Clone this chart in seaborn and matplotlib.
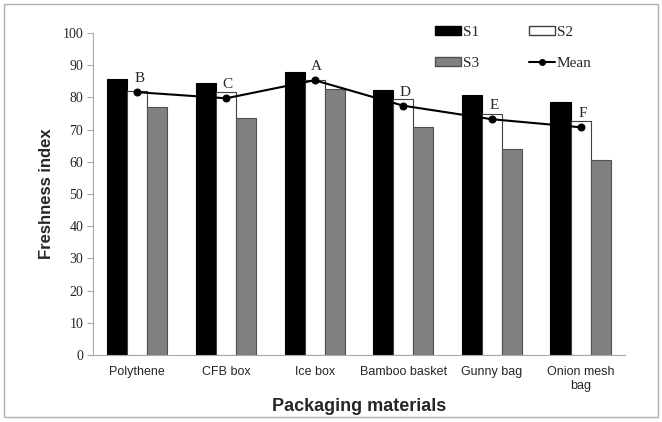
import numpy as np
import pandas as pd
import seaborn as sns
import matplotlib.pyplot as plt
from matplotlib.patches import Patch, Rectangle
from matplotlib.lines import Line2D

# Data
materials = ["Polythene", "CFB box", "Ice box", "Bamboo basket", "Gunny bag", "Onion mesh\nbag"]
s1 = [85.7, 84.5, 87.8, 82.3, 80.6, 78.4]
s2 = [82.0, 81.5, 85.4, 79.5, 74.7, 72.5]
s3 = [76.9, 73.5, 82.6, 70.7, 64.0, 60.6]
mean = [81.6, 79.7, 85.3, 77.4, 73.2, 70.7]
letters = ["B", "C", "A", "D", "E", "F"]

df = pd.DataFrame({
    "Material": materials * 3,
    "Series": ["S1"] * 6 + ["S2"] * 6 + ["S3"] * 6,
    "Value": s1 + s2 + s3,
})

sns.set_style("white")
serif = "Liberation Serif"
sans = "Liberation Sans"

fig = plt.figure(figsize=(6.62, 4.22), dpi=100)
ax = fig.add_axes([0.1405, 0.1588, 0.8035, 0.7632])

palette = {"S1": "black", "S2": "white", "S3": "#808080"}
sns.barplot(data=df, x="Material", y="Value", hue="Series", palette=palette,
            width=0.68, gap=0, saturation=1, ax=ax, legend=False)

edges = ["black", "#404040", "#505050"]
for cont, ec in zip(ax.containers, edges):
    for bar in cont:
        bar.set_edgecolor(ec)
        bar.set_linewidth(0.8)

# Mean line through the middle bar of each group
x = np.arange(len(materials))
sns.lineplot(x=x, y=mean, color="black", linewidth=1.5, marker="o",
             markersize=5, markeredgecolor="black", ax=ax)
for xi, m, lt in zip(x, mean, letters):
    ax.text(xi + 0.02, m + 2.2, lt, ha="center", va="bottom", fontsize=11,
            fontfamily=serif)

ax.set_ylim(0, 100)
ax.set_xlim(-0.5, 5.5)
ax.set_yticks(range(0, 101, 10))
ax.set_yticklabels([str(v) for v in range(0, 101, 10)], fontfamily=serif, fontsize=10)
ax.set_xticks(x)
ax.set_xticklabels(materials, fontfamily=sans, fontsize=9)
ax.set_xticks(np.arange(-0.5, 6, 1), minor=True)
ax.tick_params(axis="x", which="major", length=0, pad=8)
ax.tick_params(axis="x", which="minor", length=4, color="#aaaaaa", direction="out")
ax.tick_params(axis="y", length=4, color="#aaaaaa", direction="out", left=True, pad=3)

for side in ["top", "right"]:
    ax.spines[side].set_visible(False)
for side in ["left", "bottom"]:
    ax.spines[side].set_color("#aaaaaa")
    ax.spines[side].set_linewidth(0.8)

ax.set_xlabel("Packaging materials", fontfamily=sans, fontsize=13, fontweight="bold")
ax.xaxis.set_label_coords(0.5, -0.135)
ax.set_ylabel("Freshness index", fontfamily=sans, fontsize=12, fontweight="bold", labelpad=6)

handles = [
    Patch(facecolor="black", edgecolor="black"),
    Patch(facecolor="#808080", edgecolor="#505050"),
    Patch(facecolor="white", edgecolor="#404040"),
    Line2D([], [], color="black", marker="o", markersize=4, linewidth=1.5),
]
labels = ["S1", "S3", "S2", "Mean"]
ax.legend(handles, labels, ncol=2, frameon=False, loc="upper right",
          bbox_to_anchor=(0.963, 1.065), prop={"family": serif, "size": 11},
          handlelength=1.7, handleheight=0.5, columnspacing=3.3,
          labelspacing=1.2, handletextpad=0.1)

# Grey frame around the figure
fig.patches.append(Rectangle((0.006, 0.012), 0.988, 0.978, transform=fig.transFigure,
                             fill=False, edgecolor="#b0b0b0", linewidth=1.0))

fig.savefig("out.png", dpi=100)
